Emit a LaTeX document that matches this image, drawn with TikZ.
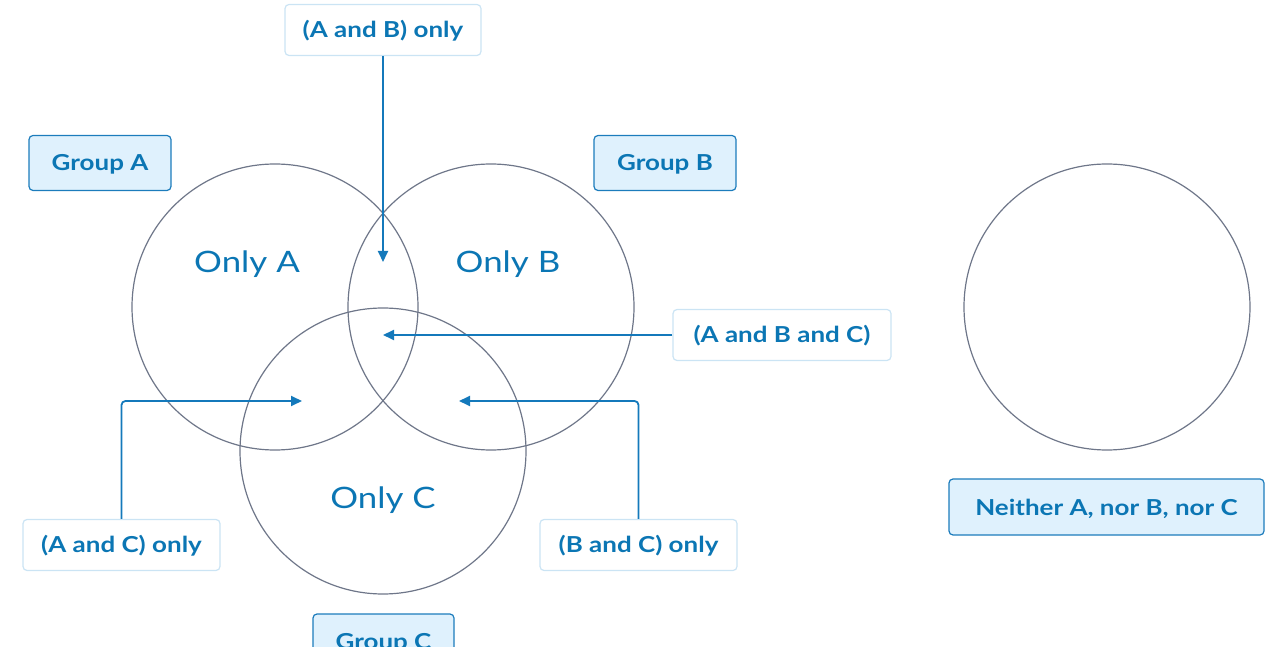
\documentclass[tikz,border=0pt]{standalone}
\usepackage{fontspec}
\setmainfont{Lato}[FakeStretch=1.18]
\usetikzlibrary{arrows.meta}
\definecolor{txtblue}{HTML}{0B76B4}
\definecolor{arrblue}{HTML}{1479BB}
\definecolor{lblborder}{HTML}{CBE4F4}
\definecolor{grpborder}{HTML}{1C7CBC}
\definecolor{grpfill}{HTML}{DFF1FD}
\definecolor{circ}{HTML}{6E7689}
\tikzset{
  x=1pt,y=1pt,
  vset/.style={draw=circ, line width=1.2pt},
  lbl/.style={draw=lblborder, line width=1.2pt, fill=white, rounded corners=4pt, text=txtblue,
     font=\bfseries\fontsize{22}{22}\selectfont, minimum height=51pt, inner sep=0pt,
     text height=16pt, text depth=0pt},
  grp/.style={draw=grpborder, line width=1.2pt, fill=grpfill, rounded corners=4pt, text=txtblue,
     font=\bfseries\fontsize{22}{22}\selectfont, minimum height=55pt, inner sep=0pt,
     text height=16pt, text depth=0pt},
  region/.style={text=txtblue, font=\fontsize{29.5}{29.5}\selectfont},
  arr/.style={draw=arrblue, line width=1.8pt, -{Triangle[length=11pt,width=10pt]}, rounded corners=4pt},
}
\begin{document}
\begin{tikzpicture}
\useasboundingbox (0,0) rectangle (1270,646);
\clip (0,0) rectangle (1270,646);
% circles
\node[vset, circle, minimum size=286pt, inner sep=0pt] (A) at (275,339) {};
\node[vset, circle, minimum size=286pt, inner sep=0pt] (B) at (491,339) {};
\node[vset, circle, minimum size=286pt, inner sep=0pt] (C) at (383,195) {};
\node[vset, circle, minimum size=286pt, inner sep=0pt] (D) at (1107,339) {};
% region texts
\node[region] (oa) at (247,382) {Only A};
\node[region] (ob) at (508,382) {Only B};
\node[region] (oc) at (383,146) {Only C};
% labels
\node[lbl, minimum width=196pt] (ab) at (383,616) {(A and B) only};
\node[lbl, minimum width=218pt] (abc) at (782,311) {(A and B and C)};
\node[lbl, minimum width=197pt] (ac) at (121.5,101) {(A and C) only};
\node[lbl, minimum width=197pt] (bc) at (638.5,101) {(B and C) only};
\node[grp, minimum width=142pt] (ga) at (100,483) {Group A};
\node[grp, minimum width=142pt] (gb) at (665,483) {Group B};
\node[grp, minimum width=315pt, minimum height=56pt] (nei) at (1106.5,139) {Neither A, nor B, nor C};
\node[grp, minimum width=141pt] (gc) at (383.5,4.5) {Group C};
% arrow targets
\coordinate (t1) at (383,384);
\coordinate (t2) at (383,311);
\coordinate (t3) at (302,245);
\coordinate (t4) at (459,245);
\draw[arr] (ab.south) -- (t1);
\draw[arr] (abc.west) -- (t2);
\draw[arr] (ac.north) |- (t3);
\draw[arr] (bc.north) |- (t4);
\end{tikzpicture}
\end{document}
